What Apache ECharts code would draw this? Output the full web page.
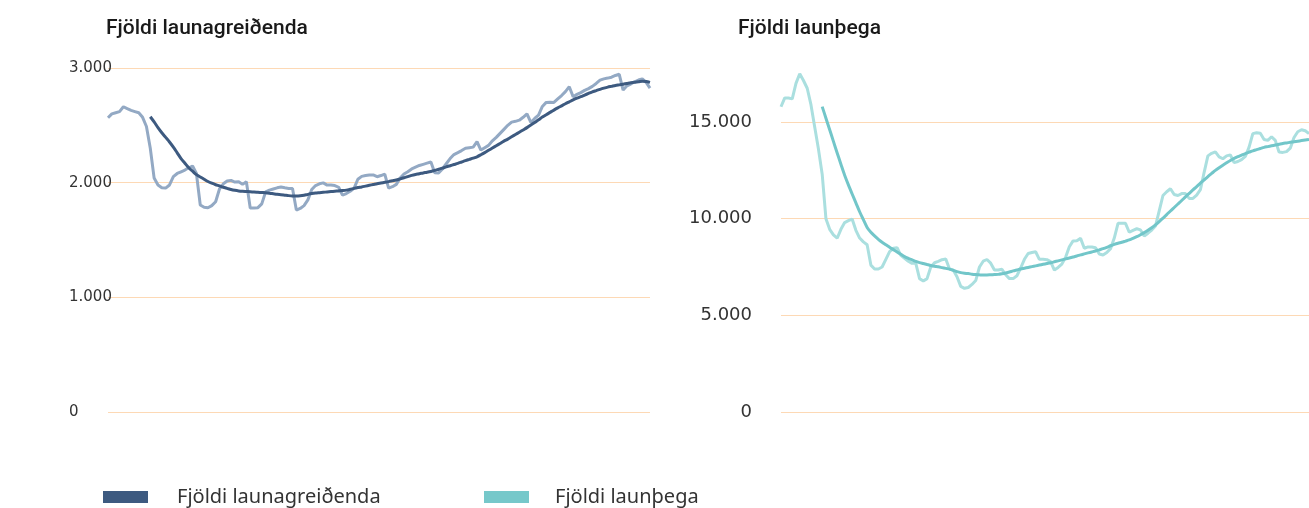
<!DOCTYPE html>
<html>
<head>
<meta charset="utf-8">
<script src="https://cdn.jsdelivr.net/npm/echarts@6/dist/echarts.min.js"></script>
<style>
	html, body { margin: 0; padding: 0; background: #fff; overflow: hidden; }
	#chart { width: 1309px; height: 508px; }
</style>
</head>
<body>
<div id="chart"></div>
<script>
// manaðarleg gögn, jan 2013 - okt 2024
var months = [];
for (var y = 2013; y <= 2024; y++) {
	for (var m = 1; m <= 12; m++) {
		if (y === 2024 && m > 10) break;
		months.push(y + '-' + (m < 10 ? '0' + m : m));
	}
}

// Fjöldi launagreiðenda - mánaðartölur
var greidendur = [
	2566, 2600, 2610, 2620, 2662, 2645, 2630, 2620, 2610, 2570,
	2490, 2300, 2040, 1979, 1955, 1953, 1980, 2052, 2080, 2095,
	2110, 2130, 2145, 2080, 1805, 1785, 1781, 1800, 1834, 1945,
	1990, 2015, 2020, 2005, 2008, 1985, 2008, 1779, 1779, 1782,
	1815, 1920, 1935, 1945, 1955, 1962, 1955, 1950, 1950, 1761,
	1775, 1800, 1850, 1940, 1975, 1990, 1998, 1979, 1979, 1975,
	1960, 1892, 1905, 1925, 1950, 2030, 2055, 2062, 2067, 2067,
	2052, 2062, 2075, 1953, 1965, 1985, 2040, 2075, 2096, 2120,
	2135, 2150, 2160, 2170, 2180, 2087, 2085, 2120, 2165, 2210,
	2245, 2262, 2280, 2300, 2305, 2310, 2357, 2284, 2305, 2325,
	2365, 2395, 2430, 2465, 2500, 2528, 2535, 2545, 2570, 2600,
	2525, 2560, 2590, 2665, 2700, 2702, 2700, 2730, 2760, 2794,
	2837, 2750, 2770, 2785, 2805, 2820, 2840, 2865, 2894, 2905,
	2912, 2920, 2935, 2945, 2807, 2845, 2860, 2880, 2895, 2905,
	2875, 2825
];

// Fjöldi launagreiðenda - 12 mánaða meðaltal
var greidendurMedal = [
	null, null, null, null, null, null, null, null, null, null,
	null, 2575, 2530, 2480, 2435, 2395, 2355, 2310, 2260, 2210,
	2170, 2130, 2100, 2070, 2050, 2030, 2010, 1995, 1982, 1972,
	1960, 1950, 1940, 1933, 1928, 1925, 1923, 1921, 1918, 1916,
	1914, 1912, 1908, 1903, 1898, 1895, 1891, 1887, 1884, 1883,
	1885, 1890, 1898, 1905, 1910, 1913, 1916, 1919, 1922, 1925,
	1928, 1931, 1935, 1942, 1950, 1957, 1963, 1970, 1977, 1984,
	1991, 1997, 2003, 2009, 2016, 2023, 2033, 2043, 2053, 2064,
	2072, 2078, 2085, 2091, 2098, 2107, 2117, 2127, 2138, 2148,
	2158, 2168, 2180, 2192, 2203, 2214, 2226, 2243, 2262, 2282,
	2302, 2322, 2342, 2362, 2380, 2400, 2420, 2440, 2460, 2480,
	2502, 2525, 2548, 2572, 2593, 2613, 2633, 2652, 2670, 2688,
	2705, 2722, 2737, 2750, 2764, 2778, 2792, 2803, 2814, 2824,
	2833, 2840, 2847, 2853, 2859, 2865, 2871, 2876, 2880, 2885,
	2883, 2875
];

// Fjöldi launþega - mánaðartölur
var launthegar = [
	15790, 16250, 16240, 16200, 17000, 17500, 17150, 16750, 15900, 14750,
	13600, 12300, 10000, 9450, 9160, 8990, 9450, 9800, 9900, 9982,
	9400, 9000, 8800, 8650, 7600, 7400, 7400, 7500, 7900, 8300,
	8470, 8500, 8100, 7950, 7800, 7690, 7690, 6900, 6775, 6900,
	7500, 7720, 7790, 7880, 7913, 7400, 7344, 7000, 6500, 6398,
	6440, 6600, 6800, 7500, 7800, 7890, 7700, 7344, 7350, 7380,
	7100, 6900, 6900, 7050, 7450, 7900, 8200, 8250, 8290, 7900,
	7897, 7880, 7780, 7344, 7480, 7650, 8000, 8550, 8850, 8862,
	8983, 8470, 8540, 8540, 8500, 8170, 8121, 8250, 8450, 9000,
	9759, 9759, 9759, 9300, 9400, 9480, 9420, 9100, 9250, 9413,
	9620, 10400, 11200, 11395, 11550, 11250, 11200, 11300, 11300, 11050,
	11050, 11220, 11500, 12400, 13250, 13380, 13460, 13200, 13100, 13250,
	13300, 12900, 12960, 13060, 13220, 13700, 14400, 14448, 14420, 14100,
	14050, 14240, 14050, 13450, 13430, 13470, 13650, 14200, 14500, 14600,
	14550, 14400
];

// Fjöldi launþega - 12 mánaða meðaltal
var launthegarMedal = [
	null, null, null, null, null, null, null, null, null, null,
	null, 15800, 15200, 14600, 14000, 13400, 12820, 12250, 11750, 11280,
	10820, 10360, 9950, 9550, 9300, 9110, 8930, 8780, 8650, 8520,
	8400, 8280, 8160, 8040, 7950, 7870, 7790, 7730, 7680, 7630,
	7580, 7540, 7510, 7470, 7430, 7390, 7330, 7260, 7210, 7180,
	7160, 7130, 7110, 7095, 7086, 7090, 7100, 7110, 7120, 7150,
	7190, 7240, 7300, 7350, 7400, 7440, 7480, 7520, 7560, 7600,
	7640, 7680, 7720, 7770, 7820, 7870, 7920, 7970, 8020, 8070,
	8130, 8180, 8230, 8280, 8330, 8390, 8450, 8520, 8600, 8670,
	8730, 8780, 8840, 8900, 8980, 9068, 9170, 9280, 9400, 9530,
	9680, 9850, 10030, 10210, 10400, 10580, 10760, 10940, 11130, 11310,
	11490, 11660, 11840, 12010, 12180, 12340, 12500, 12640, 12770, 12890,
	13010, 13120, 13210, 13290, 13370, 13440, 13510, 13570, 13630, 13690,
	13730, 13770, 13810, 13850, 13890, 13920, 13950, 13980, 14010, 14040,
	14070, 14100
];

var gridColor = '#fdd9b5';

function fmt(v) {
	return String(v).replace(/\B(?=(\d{3})+(?!\d))/g, '.');
}

var chart = echarts.init(document.getElementById('chart'));

var titleStyle = { fontFamily: 'Roboto', fontWeight: 500, fontSize: 21, color: '#1a1a1a' };
var legendText = { fontFamily: 'Noto Sans', fontSize: 20, color: '#333' };

var option = {
	animation: false,
	title: [
		{ text: 'Fjöldi launagreiðenda', left: 101, top: 13, textStyle: titleStyle },
		{ text: 'Fjöldi launþega', left: 733, top: 13, textStyle: titleStyle }
	],
	legend: [
		{ data: ['Fjöldi launagreiðenda'], left: 98, top: 482, icon: 'rect',
		  itemWidth: 45, itemHeight: 12,
		  textStyle: Object.assign({ padding: [0, 0, 0, 24] }, legendText) },
		{ data: ['Fjöldi launþega'], left: 479, top: 482, icon: 'rect',
		  itemWidth: 45, itemHeight: 12,
		  textStyle: Object.assign({ padding: [0, 0, 0, 21] }, legendText) }
	],
	grid: [
		{ left: 108, top: 68, width: 542, bottom: 96 },
		{ left: 781, top: 412 - 20 * 19.33, width: 542, bottom: 96 }
	],
	xAxis: [
		{ type: 'category', gridIndex: 0, data: months, boundaryGap: false, show: false },
		{ type: 'category', gridIndex: 1, data: months, boundaryGap: false, show: false }
	],
	yAxis: [
		{ type: 'value', gridIndex: 0, min: 0, max: 3000, interval: 1000,
		  axisLine: { show: false }, axisTick: { show: false },
		  axisLabel: { align: 'left', margin: 39, formatter: fmt,
		  	color: '#333', fontSize: 15, fontFamily: 'DejaVu Sans' },
		  splitLine: { lineStyle: { color: gridColor, width: 1 } } },
		{ type: 'value', gridIndex: 1, min: 0, max: 20000, interval: 5000,
		  axisLine: { show: false }, axisTick: { show: false },
		  axisLabel: { margin: 29, showMaxLabel: false, formatter: fmt,
		  	color: '#333', fontSize: 18, fontFamily: 'DejaVu Sans' },
		  splitLine: { lineStyle: { color: [gridColor, gridColor, gridColor, gridColor, 'rgba(0,0,0,0)'], width: 1 } } }
	],
	series: [
		{ name: 'greidendur', type: 'line', xAxisIndex: 0, yAxisIndex: 0, data: greidendur,
		  showSymbol: false, lineStyle: { color: '#93a9c4', width: 3 }, itemStyle: { color: '#93a9c4' } },
		{ name: 'Fjöldi launagreiðenda', type: 'line', xAxisIndex: 0, yAxisIndex: 0, data: greidendurMedal,
		  showSymbol: false, smooth: 0.3, lineStyle: { color: '#3d5a80', width: 3 }, itemStyle: { color: '#3d5a80' } },
		{ name: 'launthegar', type: 'line', xAxisIndex: 1, yAxisIndex: 1, data: launthegar,
		  showSymbol: false, lineStyle: { color: '#aadfdf', width: 3 }, itemStyle: { color: '#aadfdf' } },
		{ name: 'Fjöldi launþega', type: 'line', xAxisIndex: 1, yAxisIndex: 1, data: launthegarMedal,
		  showSymbol: false, smooth: 0.3, lineStyle: { color: '#72c6c9', width: 3 }, itemStyle: { color: '#76c8ca' } }
	]
};

chart.setOption(option);
</script>
</body>
</html>
